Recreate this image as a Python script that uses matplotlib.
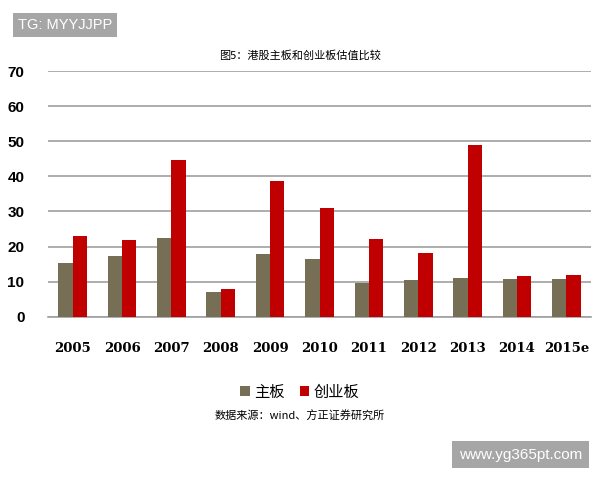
import numpy as np
import matplotlib.pyplot as plt

plt.rcParams['font.family'] = ['Noto Sans CJK SC', 'DejaVu Sans']

# 数据
years = ["2005", "2006", "2007", "2008", "2009", "2010", "2011", "2012", "2013", "2014", "2015e"]
main_board = [15.4, 17.4, 22.4, 7.1, 17.9, 16.5, 9.7, 10.5, 11.1, 10.8, 10.8]
gem_board = [22.9, 21.8, 44.7, 8.0, 38.7, 31.0, 22.2, 18.2, 49.0, 11.7, 12.0]

fig = plt.figure(figsize=(6, 4.8), dpi=100)
ax = fig.add_axes([0.08, 0.34, 0.905, 0.512])

x = np.arange(len(years))
w = 0.29
ax.bar(x - w / 2, main_board, width=w, color="#766e55", label="主板", zorder=3)
ax.bar(x + w / 2, gem_board, width=w, color="#c00000", label="创业板", zorder=3)

ax.set_xlim(-0.5, len(years) - 0.5)
ax.set_ylim(0, 70)
ax.set_yticks(range(0, 71, 10))
ax.yaxis.grid(True, color="#a0a0a0", linewidth=1.2, zorder=0)
ax.tick_params(length=0)
ax.tick_params(axis="y", pad=17)
ax.tick_params(axis="x", pad=18)
ax.set_xticks(x)
ax.set_xticklabels(years, fontfamily="DejaVu Serif", fontweight="bold", fontsize=9.5)
for lab in ax.get_yticklabels():
    lab.set_fontfamily("Liberation Sans")
    lab.set_fontweight("bold")
    lab.set_fontsize(11)
for s in ["top", "right", "left"]:
    ax.spines[s].set_visible(False)
ax.spines["bottom"].set_color("#a0a0a0")
ax.spines["bottom"].set_linewidth(1.2)

fig.text(0.5, 0.885, "图5：港股主板和创业板估值比较", ha="center", va="center", fontsize=8)

leg = fig.legend(loc="center", bbox_to_anchor=(0.5, 0.183), ncol=2, frameon=False,
                 fontsize=11, handlelength=0.6, handleheight=0.6, handletextpad=0.3,
                 columnspacing=1.0)

fig.text(0.5, 0.133, "数据来源：wind、方正证券研究所", ha="center", va="center", fontsize=8)

# 水印
fig.text(0.03, 0.948, "TG: MYYJJPP", ha="left", va="center", fontsize=10.5, color="white",
         fontfamily="Liberation Sans",
         bbox=dict(boxstyle="square,pad=0.35", facecolor="#a6a6a6", edgecolor="none"))
fig.text(0.97, 0.053, "www.yg365pt.com", ha="right", va="center", fontsize=11, color="white",
         fontfamily="Liberation Sans",
         bbox=dict(boxstyle="square,pad=0.45", facecolor="#a6a6a6", edgecolor="none"))

fig.savefig("out.png", dpi=100)
